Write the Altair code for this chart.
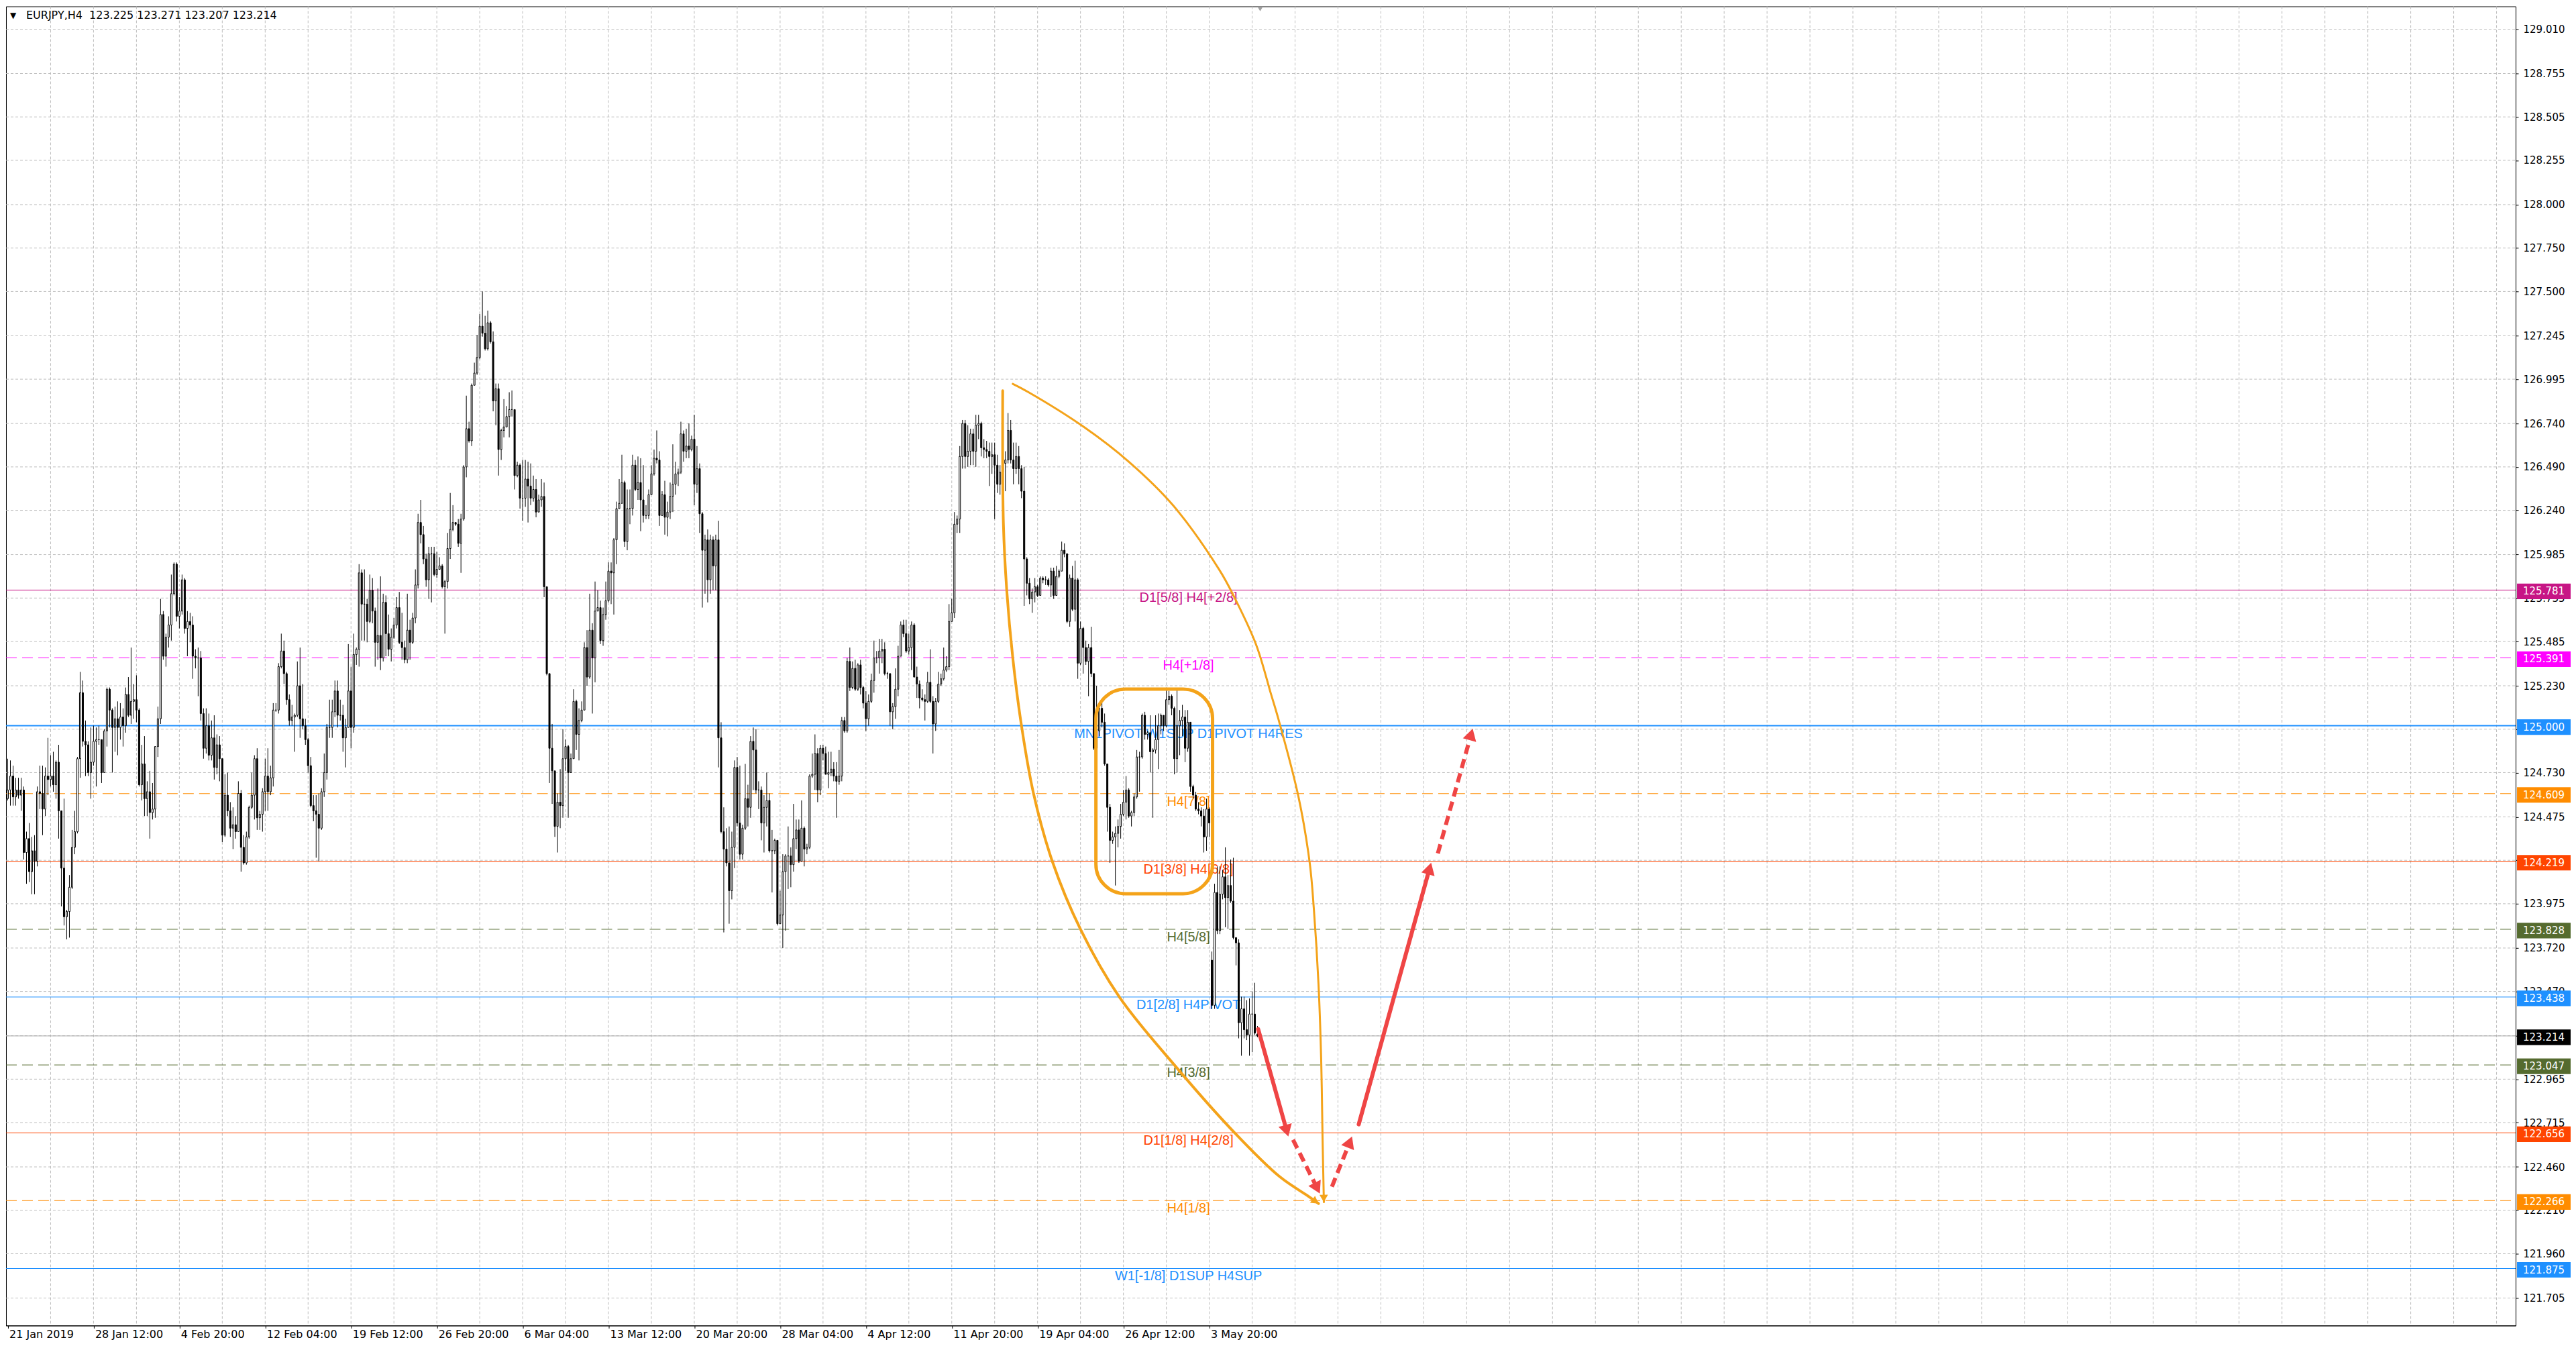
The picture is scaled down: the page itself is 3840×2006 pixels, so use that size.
import math
import altair as alt
import pandas as pd

# ---------------------------------------------------------------- data
HEADER = "EURJPY,H4\u00a0\u00a0123.225 123.271 123.207 123.214"

# H4 candles, bar index 0 = 21 Jan 2019 00:00 (one bar = 4 hours)
first_open = 124.58
open_gaps = {449: 123.65, 466: 123.225}

close = [
    124.63, 124.71, 124.59, 124.63, 124.60, 124.63, 124.27, 124.35, 124.16, 124.28,
    124.22, 124.62, 124.61, 124.52, 124.71, 124.69, 124.71, 124.66, 124.79, 124.51,
    124.18, 123.90, 123.93, 124.07, 124.30, 124.39, 124.81, 125.19, 124.91, 124.89,
    124.73, 124.79, 124.91, 124.92, 124.92, 124.73, 124.97, 125.21, 125.09, 124.99,
    125.04, 124.99, 125.05, 125.00, 125.18, 125.06, 125.14, 125.15, 125.09, 124.66,
    124.78, 124.58, 124.62, 124.50, 124.52, 124.88, 125.04, 125.64, 125.40, 125.51,
    125.58, 125.76, 125.93, 125.63, 125.66, 125.84, 125.56, 125.60, 125.58, 125.40,
    125.39, 125.39, 125.07, 124.87, 125.00, 124.83, 124.93, 124.76, 124.89, 124.81,
    124.37, 124.60, 124.51, 124.41, 124.43, 124.39, 124.61, 124.30, 124.21, 124.36,
    124.53, 124.60, 124.81, 124.47, 124.49, 124.62, 124.71, 124.62, 124.70, 125.09,
    125.09, 125.34, 125.43, 125.30, 125.15, 125.03, 125.05, 125.06, 125.23, 125.04,
    125.00, 124.92, 124.77, 124.54, 124.51, 124.49, 124.41, 124.62, 124.73,
    124.99, 124.99, 125.08, 125.20, 125.06, 125.06, 124.93, 124.99, 125.20, 124.99,
    125.41, 125.44, 125.88, 125.70, 125.70, 125.60, 125.78, 125.66, 125.48, 125.52,
    125.39, 125.71, 125.53, 125.44, 125.51, 125.58, 125.68, 125.48, 125.45, 125.38,
    125.55, 125.48, 125.62, 125.81, 126.17, 126.10, 125.96, 125.84, 125.99, 125.99,
    125.87, 125.90, 125.92, 125.80, 125.83, 126.02, 126.13, 126.17, 126.16, 126.05,
    126.19, 126.49, 126.71, 126.64, 126.96, 127.03, 127.12, 127.30, 127.26, 127.17,
    127.32, 127.21, 126.87, 126.94, 126.59, 126.70, 126.72, 126.78, 126.82, 126.82,
    126.44, 126.50, 126.31, 126.31, 126.42, 126.38, 126.31, 126.36, 126.23, 126.30,
    126.32, 125.80, 125.30, 124.87, 124.74, 124.42, 124.56, 124.54, 124.81, 124.88,
    124.73, 124.81, 125.14, 124.95, 125.03, 125.09, 125.45, 125.28, 125.55, 125.39,
    125.66, 125.68, 125.49, 125.64, 125.72, 125.89, 125.88, 126.07, 126.25, 126.28,
    126.40, 126.06, 126.25, 126.25, 126.50, 126.36, 126.40,
    126.30, 126.21, 126.21, 126.33, 126.45, 126.54, 126.53, 126.21, 126.33, 126.20,
    126.23, 126.32, 126.39, 126.45, 126.46, 126.68, 126.58, 126.61, 126.59, 126.65,
    126.39, 126.48, 126.22, 126.01, 126.07, 125.84, 126.07, 125.92, 126.07, 124.93,
    124.39, 124.29, 124.21, 124.05, 124.30, 124.76, 124.44, 124.26, 124.41, 124.58,
    124.53, 124.91, 124.86, 124.63, 124.63, 124.44, 124.53, 124.57, 124.28, 124.28,
    124.34, 123.86, 123.91, 124.16, 124.25, 124.25, 124.20, 124.35, 124.40, 124.22,
    124.41, 124.29, 124.30, 124.71, 124.72, 124.84, 124.63, 124.87, 124.84, 124.72,
    124.73, 124.75, 124.71, 124.68, 124.71, 125.03, 124.97, 125.37, 125.22, 125.33,
    125.21, 125.35, 125.22, 125.13, 125.04, 125.14, 125.26, 125.39, 125.39, 125.43,
    125.44, 125.30, 125.30, 125.08, 125.11, 125.21, 125.40, 125.58, 125.53, 125.43,
    125.45, 125.58, 125.28, 125.24, 125.16, 125.15, 125.14, 125.25, 125.14, 125.01,
    125.14, 125.24, 125.27, 125.32, 125.34, 125.60, 125.65,
    126.16, 126.19, 126.55, 126.74, 126.55, 126.58, 126.68, 126.58, 126.73, 126.74,
    126.60, 126.59, 126.58, 126.55, 126.56, 126.50, 126.39, 126.46, 126.51, 126.53,
    126.70, 126.53, 126.48, 126.55, 126.48, 126.35, 125.96, 125.82, 125.73, 125.77,
    125.80, 125.75, 125.85, 125.84, 125.84, 125.81, 125.89, 125.75, 125.86, 125.89,
    126.01, 125.99, 125.60, 125.85, 125.67, 125.84, 125.36, 125.56, 125.45, 125.37,
    125.45, 125.30, 124.87, 124.97, 125.10, 125.02, 124.78, 124.53, 124.34, 124.36,
    124.38, 124.42, 124.49, 124.56, 124.63, 124.48, 124.50, 124.59, 124.82, 124.82,
    125.06, 124.95, 124.96, 124.85, 124.86, 124.92, 125.00, 125.06, 125.00, 125.15,
    125.17, 125.10, 124.81, 125.00, 125.03, 125.05, 124.87, 125.02, 124.65, 124.60,
    124.52, 124.51, 124.48, 124.36, 124.52, 124.44, 123.39, 124.04, 123.82, 124.03,
    124.13, 124.01, 124.08, 123.99, 123.78, 123.75, 123.29, 123.37, 123.25, 123.22,
    123.34, 123.34, 123.23, 123.214,
]

high = [
    124.81, 124.80, 124.77, 124.70, 124.70, 124.70, 124.65, 124.39, 124.44, 124.36,
    124.37, 124.65, 124.77, 124.77, 124.76, 124.93, 124.83, 124.85, 124.80, 124.89,
    124.51, 124.58, 123.94, 124.14, 124.40, 124.51, 124.82, 125.31, 125.26, 125.03,
    124.91, 124.99, 125.00, 124.99, 125.00, 124.92, 124.98, 125.22, 125.22, 125.10,
    125.11, 125.14, 125.13, 125.10, 125.22, 125.28, 125.45, 125.24, 125.29, 125.10,
    124.89, 124.94, 124.68, 124.74, 124.67, 124.88, 125.11, 125.73, 125.66, 125.53,
    125.63, 125.87, 125.94, 125.94, 125.74, 125.87, 125.85, 125.66, 125.65, 125.63,
    125.44, 125.45, 125.43, 125.10, 125.10, 125.07, 125.03, 125.06, 124.95, 124.94,
    124.81, 124.72, 124.73, 124.56, 124.53, 124.48, 124.68, 124.63, 124.37, 124.39,
    124.54, 124.73, 124.83, 124.87, 124.51, 124.64, 124.81, 124.87, 124.77, 125.13,
    125.13, 125.36, 125.53, 125.49, 125.31, 125.18, 125.12, 125.07, 125.37, 125.45,
    125.24, 125.04, 124.93, 124.82, 124.60, 124.60, 124.61, 124.64, 124.84,
    125.01, 125.15, 125.15, 125.26, 125.26, 125.15, 125.12, 125.04, 125.47, 125.34,
    125.53, 125.45, 125.93, 125.90, 125.90, 125.73, 125.87, 125.85, 125.68, 125.79,
    125.86, 125.76, 125.75, 125.64, 125.56, 125.62, 125.74, 125.77, 125.65, 125.49,
    125.76, 125.61, 125.65, 125.90, 126.22, 126.30, 126.15, 125.99, 126.03, 126.03,
    126.03, 126.00, 125.97, 125.93, 125.84, 126.11, 126.34, 126.27, 126.17, 126.19,
    126.22, 126.50, 126.90, 126.75, 126.97, 127.09, 127.25, 127.37, 127.50, 127.36,
    127.39, 127.33, 127.27, 126.97, 126.97, 126.71, 126.88, 126.84, 126.92, 126.93,
    126.82, 126.52, 126.51, 126.53, 126.53, 126.52, 126.51, 126.44, 126.42, 126.33,
    126.42, 126.40, 125.80, 125.30, 125.01, 124.73, 124.61, 124.75, 124.98, 124.92,
    124.89, 124.84, 125.21, 125.15, 125.10, 125.14, 125.48, 125.55, 125.76, 125.59,
    125.83, 125.78, 125.72, 125.68, 125.83, 125.94, 125.94, 126.08, 126.29, 126.42,
    126.56, 126.41, 126.36, 126.36, 126.56, 126.53, 126.55,
    126.54, 126.50, 126.27, 126.36, 126.50, 126.59, 126.70, 126.58, 126.35, 126.41,
    126.29, 126.40, 126.62, 126.52, 126.48, 126.75, 126.70, 126.71, 126.74, 126.67,
    126.79, 126.61, 126.51, 126.23, 126.10, 126.13, 126.10, 126.09, 126.10, 126.18,
    125.02, 124.53, 124.41, 124.42, 124.39, 124.80, 124.82, 124.77, 124.43, 124.78,
    124.66, 124.94, 124.99, 124.98, 124.68, 124.65, 124.60, 124.73, 124.61, 124.40,
    124.35, 124.34, 124.05, 124.26, 124.26, 124.42, 124.30, 124.55, 124.46, 124.46,
    124.57, 124.42, 124.32, 124.72, 124.84, 124.95, 124.87, 124.89, 124.89, 124.88,
    124.85, 124.85, 124.79, 124.79, 124.86, 125.05, 125.05, 125.39, 125.45, 125.37,
    125.38, 125.36, 125.38, 125.23, 125.20, 125.18, 125.30, 125.49, 125.43, 125.50,
    125.50, 125.48, 125.31, 125.30, 125.13, 125.33, 125.46, 125.60, 125.61, 125.61,
    125.53, 125.60, 125.59, 125.34, 125.26, 125.21, 125.18, 125.31, 125.44, 125.17,
    125.16, 125.31, 125.30, 125.45, 125.40, 125.70, 125.73,
    126.23, 126.21, 126.61, 126.76, 126.76, 126.73, 126.71, 126.71, 126.79, 126.79,
    126.75, 126.65, 126.64, 126.63, 126.63, 126.63, 126.56, 126.50, 126.56, 126.58,
    126.80, 126.76, 126.63, 126.63, 126.61, 126.50, 126.49, 125.97, 125.85, 125.79,
    125.85, 125.81, 125.86, 125.86, 125.86, 125.85, 125.91, 125.91, 125.92, 125.90,
    126.06, 126.05, 125.99, 125.87, 125.92, 125.95, 125.85, 125.60, 125.57, 125.49,
    125.47, 125.57, 125.30, 125.23, 125.12, 125.13, 125.07, 124.78, 124.55, 124.39,
    124.42, 124.46, 124.55, 124.63, 124.71, 124.64, 124.51, 124.61, 124.86, 124.85,
    125.07, 125.08, 124.97, 125.06, 124.87, 125.06, 125.07, 125.07, 125.06, 125.21,
    125.20, 125.18, 125.11, 125.21, 125.09, 125.12, 125.09, 125.09, 125.02, 124.66,
    124.62, 124.56, 124.53, 124.52, 124.58, 124.53, 123.70, 124.09, 124.19, 124.19,
    124.17, 124.30, 124.14, 124.23, 124.24, 123.78, 123.77, 123.44, 123.44, 123.42,
    123.43, 123.47, 123.52, 123.271,
]

low = [
    124.57, 124.54, 124.54, 124.54, 124.58, 124.51, 124.23, 124.09, 124.10, 124.03,
    124.03, 124.19, 124.52, 124.37, 124.48, 124.60, 124.65, 124.62, 124.58, 124.35,
    123.96, 123.85, 123.77, 123.78, 124.06, 124.26, 124.38, 124.70, 124.88, 124.71,
    124.71, 124.58, 124.77, 124.65, 124.89, 124.67, 124.73, 124.88, 124.99, 124.73,
    124.85, 124.83, 124.92, 124.88, 124.96, 125.05, 125.01, 125.04, 125.02, 124.65,
    124.57, 124.48, 124.48, 124.35, 124.46, 124.47, 124.82, 125.01, 125.38, 125.34,
    125.45, 125.49, 125.75, 125.60, 125.56, 125.64, 125.53, 125.40, 125.48, 125.27,
    125.33, 125.17, 125.03, 124.81, 124.84, 124.80, 124.80, 124.69, 124.72, 124.68,
    124.33, 124.36, 124.48, 124.36, 124.29, 124.35, 124.39, 124.16, 124.20, 124.20,
    124.35, 124.52, 124.46, 124.40, 124.40, 124.39, 124.51, 124.51, 124.60, 124.65,
    125.08, 125.07, 125.33, 125.24, 125.12, 125.00, 125.00, 124.85, 125.05, 124.93,
    124.98, 124.89, 124.73, 124.53, 124.45, 124.24, 124.22, 124.40, 124.59,
    124.69, 124.93, 124.93, 125.05, 124.99, 125.03, 124.85, 124.76, 124.99, 124.87,
    124.96, 125.35, 125.34, 125.49, 125.49, 125.48, 125.59, 125.59, 125.34, 125.38,
    125.32, 125.37, 125.40, 125.40, 125.37, 125.50, 125.56, 125.47, 125.38, 125.36,
    125.36, 125.38, 125.47, 125.59, 125.79, 126.05, 125.93, 125.80, 125.73, 125.71,
    125.86, 125.85, 125.91, 125.79, 125.53, 125.79, 125.96, 126.12, 126.15, 126.03,
    125.88, 126.18, 126.43, 126.63, 126.61, 126.96, 127.02, 127.11, 127.24, 127.16,
    127.16, 127.20, 126.81, 126.73, 126.44, 126.53, 126.66, 126.72, 126.66, 126.78,
    126.36, 126.43, 126.25, 126.18, 126.26, 126.17, 126.27, 126.29, 126.20, 126.23,
    126.26, 125.74, 125.29, 124.67, 124.55, 124.36, 124.27, 124.41, 124.47, 124.74,
    124.47, 124.73, 124.81, 124.86, 124.80, 125.02, 125.09, 125.23, 125.27, 125.07,
    125.25, 125.66, 125.47, 125.46, 125.61, 125.71, 125.70, 125.64, 125.93, 126.25,
    126.29, 126.03, 126.01, 126.16, 126.21, 126.35, 126.30,
    126.12, 126.17, 126.19, 126.19, 126.33, 126.44, 126.51, 126.15, 126.21, 126.10,
    126.09, 126.19, 126.23, 126.33, 126.38, 126.45, 126.52, 126.54, 126.54, 126.58,
    126.27, 126.34, 126.11, 125.68, 125.76, 125.71, 125.76, 125.78, 125.78, 124.76,
    124.38, 123.81, 124.19, 123.86, 124.00, 124.18, 124.42, 124.23, 124.23, 124.40,
    124.42, 124.47, 124.63, 124.61, 124.52, 124.34, 124.27, 124.42, 124.27, 124.04,
    124.26, 123.85, 123.86, 123.72, 123.82, 124.06, 124.07, 124.16, 124.29, 124.21,
    124.22, 124.19, 124.26, 124.29, 124.70, 124.63, 124.56, 124.60, 124.80, 124.72,
    124.64, 124.71, 124.68, 124.47, 124.66, 124.68, 124.96, 124.96, 125.20, 125.21,
    125.20, 125.20, 125.18, 125.10, 124.97, 125.00, 125.13, 125.19, 125.36, 125.30,
    125.36, 125.29, 125.27, 125.00, 124.98, 125.04, 125.17, 125.40, 125.51, 125.42,
    125.41, 125.32, 125.28, 125.16, 125.10, 125.14, 125.03, 125.13, 125.13, 124.84,
    124.97, 125.13, 125.23, 125.26, 125.31, 125.32, 125.61,
    125.62, 126.11, 126.11, 126.48, 126.48, 126.49, 126.50, 126.50, 126.49, 126.65,
    126.55, 126.54, 126.54, 126.38, 126.45, 126.19, 126.34, 126.33, 126.31, 126.35,
    126.51, 126.51, 126.39, 126.45, 126.39, 126.31, 125.69, 125.75, 125.70, 125.65,
    125.71, 125.74, 125.75, 125.82, 125.81, 125.80, 125.74, 125.73, 125.77, 125.85,
    125.89, 125.97, 125.59, 125.57, 125.66, 125.60, 125.27, 125.35, 125.30, 125.35,
    125.17, 125.28, 124.86, 124.86, 124.94, 124.99, 124.77, 124.39, 124.21, 124.32,
    124.08, 124.30, 124.35, 124.48, 124.46, 124.47, 124.42, 124.48, 124.58, 124.62,
    124.81, 124.92, 124.92, 124.73, 124.47, 124.84, 124.75, 124.95, 124.97, 124.99,
    125.12, 125.06, 124.72, 124.73, 124.83, 124.94, 124.79, 124.85, 124.62, 124.58,
    124.51, 124.49, 124.42, 124.27, 124.28, 124.36, 123.37, 123.37, 123.80, 123.80,
    124.00, 123.84, 123.83, 123.98, 123.77, 123.62, 123.20, 123.10, 123.20, 123.19,
    123.10, 123.12, 123.22, 123.207,
]

# time-axis labels (every 32 bars)
x_labels = ["21 Jan 2019", "28 Jan 12:00", "4 Feb 20:00", "12 Feb 04:00", "19 Feb 12:00",
            "26 Feb 20:00", "6 Mar 04:00", "13 Mar 12:00", "20 Mar 20:00", "28 Mar 04:00",
            "4 Apr 12:00", "11 Apr 20:00", "19 Apr 04:00", "26 Apr 12:00", "3 May 20:00"]

# price-axis ticks
y_ticks = [129.010, 128.755, 128.505, 128.255, 128.000, 127.750, 127.500, 127.245,
           126.995, 126.740, 126.490, 126.240, 125.985, 125.735, 125.485, 125.230,
           124.980, 124.730, 124.475, 124.225, 123.975, 123.720, 123.470, 123.215,
           122.965, 122.715, 122.460, 122.210, 121.960, 121.705]

# Murrey / pivot levels
lvl_price = [125.781, 125.391, 125.000, 124.609, 124.219, 123.828, 123.438,
             123.047, 122.656, 122.266, 121.875]
lvl_text = ["D1[5/8] H4[+2/8]", "H4[+1/8]", "MN1PIVOT W1SUP D1PIVOT H4RES", "H4[7/8]",
            "D1[3/8] H4[6/8]", "H4[5/8]", "D1[2/8] H4PIVOT", "H4[3/8]",
            "D1[1/8] H4[2/8]", "H4[1/8]", "W1[-1/8] D1SUP H4SUP"]
lvl_color = ["#C71585", "#FF00FF", "#1E90FF", "#FF8C00", "#FF4500", "#556B2F",
             "#1E90FF", "#556B2F", "#FF4500", "#FF8C00", "#1E90FF"]
lvl_dashed = [False, True, False, True, False, True, False, True, False, True, False]
lvl_width = [1, 1, 2, 1, 1, 1, 1, 1, 1, 1, 1]
last_price = 123.214

# hand-drawn annotations (bar index, price)
arc1_x = [371.0, 371.25, 372.5, 374.75, 378.0, 382.5, 389.5, 400.0, 414.5, 435.0,
          457.5, 474.25, 485.25, 488.75]
arc1_y = [126.929, 126.168, 125.781, 125.391, 125.000, 124.609, 124.219, 123.828, 123.438,
          123.047, 122.656, 122.404, 122.288, 122.249]
arc2_x = [374.75, 380.5, 401.25, 418.0, 434.5, 451.75, 457.0, 465.5, 471.0, 473.75, 481.25,
          485.5, 487.0, 488.75, 489.75, 490.25, 490.75]
arc2_y = [126.968, 126.921, 126.720, 126.520, 126.269, 125.898, 125.751, 125.466, 125.184,
          125.041, 124.593, 124.207, 123.948, 123.512, 123.076, 122.635, 122.257]
box_x = [405.75, 449.25]
box_y = [124.033, 125.211]

red_x0 = [466.25, 479.25, 493.75, 503.75, 533.25]
red_y0 = [123.253, 122.616, 122.346, 122.705, 124.265]
red_x1 = [477.5, 489.25, 501.25, 530.75, 546.25]
red_y1 = [122.635, 122.307, 122.635, 124.211, 124.983]
red_dashed = [False, True, True, False, True]

# ---------------------------------------------------------------- layout / style
W, H = 3743, 1967
X0 = -0.625
X1 = X0 + W / 4.0
Y0, Y1 = 121.5467, 129.1413
PXB = W / (X1 - X0)
PXP = H / (Y1 - Y0)
LABEL_X = 440.25
ORANGE = "#F4A31A"
RED = "#EF4545"
GRID = "#BDBDBD"

assert len(close) == len(high) == len(low) == 467

opens = [first_open] + close[:-1]
for k, v in open_gaps.items():
    opens[k] = v

rows = []
for i in range(len(close)):
    o, c = opens[i], close[i]
    top, bot = max(o, c), min(o, c)
    rows.append({"i": i, "top": top, "bot": bot,
                 "hi": max(high[i], top), "lo": min(low[i], bot),
                 "fill": "#FFFFFF" if c >= o else "#000000"})
candles = pd.DataFrame(rows)

xs = alt.Scale(domain=[X0, X1], nice=False, zero=False)
ys = alt.Scale(domain=[Y0, Y1], nice=False, zero=False)

label_expr = "[" + ",".join("'%s'" % s for s in x_labels) + "][round(datum.value / 32)]"
x_axis = alt.Axis(title=None, values=[32 * k for k in range(len(x_labels))], labelExpr=label_expr,
                  orient="bottom", grid=False, domain=True, domainColor="#000000", domainWidth=1,
                  ticks=True, tickColor="#000000", tickSize=4, labelAlign="left", labelBaseline="top",
                  labelPadding=1, labelOffset=2, labelFont="DejaVu Sans", labelFontSize=16,
                  labelColor="#000000", labelOverlap=False, labelFlush=False)
y_axis = alt.Axis(title=None, values=y_ticks, format=".3f", orient="right", grid=False,
                  domain=True, domainColor="#000000", ticks=True, tickColor="#000000", tickSize=4,
                  labelPadding=7, labelFont="DejaVu Sans", labelFontSize=15, labelColor="#000000",
                  labelOverlap=False, labelFlush=False, labelBaseline="middle")


def X(f):
    return alt.X(f, type="quantitative", scale=xs, axis=x_axis)


def Y(f):
    return alt.Y(f, type="quantitative", scale=ys, axis=y_axis)


# grid
hgrid = alt.Chart(pd.DataFrame({"p": y_ticks})).mark_rule(
    color=GRID, strokeWidth=1, strokeDash=[4, 3]).encode(
    y=Y("p"), x=alt.value(0), x2=alt.value(W))
vgrid = alt.Chart(pd.DataFrame({"b": [16 * k for k in range(1, 59)]})).mark_rule(
    color=GRID, strokeWidth=1, strokeDash=[4, 3]).encode(
    x=X("b"), y=alt.value(0), y2=alt.value(H))

levels = pd.DataFrame({"p": lvl_price, "t": lvl_text, "col": lvl_color,
                       "dash": lvl_dashed, "w": lvl_width})
lv_solid = alt.Chart(levels[~levels.dash]).mark_rule().encode(
    y=Y("p"), x=alt.value(0), x2=alt.value(W),
    color=alt.Color("col:N", scale=None), strokeWidth=alt.StrokeWidth("w:Q", scale=None))
lv_dash = alt.Chart(levels[levels.dash]).mark_rule(strokeDash=[16, 8]).encode(
    y=Y("p"), x=alt.value(0), x2=alt.value(W),
    color=alt.Color("col:N", scale=None), strokeWidth=alt.StrokeWidth("w:Q", scale=None))
bid_line = alt.Chart(pd.DataFrame({"p": [last_price]})).mark_rule(
    color="#A8A8A8", strokeWidth=1).encode(y=Y("p"), x=alt.value(0), x2=alt.value(W))

lv_text = alt.Chart(levels.assign(x=LABEL_X)).mark_text(
    font="Liberation Sans", fontSize=20, align="center", baseline="alphabetic", dy=18).encode(
    x=X("x"), y=Y("p"), text="t:N", color=alt.Color("col:N", scale=None))

# candles
wicks = alt.Chart(candles).mark_rule(color="#000000", strokeWidth=1).encode(
    x=X("i"), y=Y("lo"), y2="hi:Q")
bodies = alt.Chart(candles).transform_calculate(
    xl="datum.i - 0.25", xr="datum.i + 0.25").mark_rect(
    stroke="#000000", strokeWidth=1).encode(
    x=X("xl"), x2="xr:Q", y=Y("bot"), y2="top:Q", fill=alt.Fill("fill:N", scale=None))

# annotations
arcs1 = pd.DataFrame({"x": arc1_x, "y": arc1_y, "o": range(len(arc1_x))})
arcs2 = pd.DataFrame({"x": arc2_x, "y": arc2_y, "o": range(len(arc2_x))})
arc1 = alt.Chart(arcs1).mark_line(color=ORANGE, strokeWidth=4, interpolate="catmull-rom",
                                  strokeCap="round").encode(x=X("x"), y=Y("y"), order="o:Q")
arc2 = alt.Chart(arcs2).mark_line(color=ORANGE, strokeWidth=3, interpolate="catmull-rom",
                                  strokeCap="round").encode(x=X("x"), y=Y("y"), order="o:Q")
rbox = alt.Chart(pd.DataFrame({"x": [box_x[0]], "x2": [box_x[1]], "y": [box_y[0]], "y2": [box_y[1]]})).mark_rect(
    fillOpacity=0, stroke=ORANGE, strokeWidth=5, cornerRadius=44).encode(
    x=X("x"), x2="x2:Q", y=Y("y"), y2="y2:Q")


def head(xa, ya, xb, yb, size):
    dx = (xb - xa) * PXB
    dy = -(yb - ya) * PXP
    L = math.hypot(dx, dy)
    ux, uy = dx / L, dy / L
    h = 0.433 * math.sqrt(size)
    cx = xb - ux * h / PXB
    cy = yb + uy * h / PXP
    ang = math.degrees(math.atan2(ux, -uy)) % 360
    return cx, cy, ang


heads_o = []
for (xa, ya, xb, yb) in [(arc1_x[-2], arc1_y[-2], arc1_x[-1], arc1_y[-1]),
                         (arc2_x[-2], arc2_y[-2], arc2_x[-1], arc2_y[-1])]:
    cx, cy, ang = head(xa, ya, xb, yb, 160)
    heads_o.append({"x": cx, "y": cy, "a": ang})
o_heads = alt.Chart(pd.DataFrame(heads_o)).mark_point(
    shape="triangle-up", filled=True, size=160, color=ORANGE, opacity=1).encode(
    x=X("x"), y=Y("y"), angle=alt.Angle("a:Q", scale=None))

segs, heads_r = [], []
for xa, ya, xb, yb, d in zip(red_x0, red_y0, red_x1, red_y1, red_dashed):
    cx, cy, ang = head(xa, ya, xb, yb, 420)
    segs.append({"x": xa, "y": ya, "x2": cx, "y2": cy, "d": d})
    heads_r.append({"x": cx, "y": cy, "a": ang})
segs = pd.DataFrame(segs)
red_solid = alt.Chart(segs[~segs.d]).mark_rule(color=RED, strokeWidth=6, strokeCap="round").encode(
    x=X("x"), x2="x2:Q", y=Y("y"), y2="y2:Q")
red_dash = alt.Chart(segs[segs.d]).mark_rule(color=RED, strokeWidth=6, strokeDash=[14, 8]).encode(
    x=X("x"), x2="x2:Q", y=Y("y"), y2="y2:Q")
r_heads = alt.Chart(pd.DataFrame(heads_r)).mark_point(
    shape="triangle-up", filled=True, size=420, color=RED, opacity=1).encode(
    x=X("x"), y=Y("y"), angle=alt.Angle("a:Q", scale=None))

# price tags on the right axis
tags = pd.DataFrame({"p": lvl_price + [last_price], "col": lvl_color + ["#000000"]})
tags["t"] = tags.p.map(lambda v: "%.3f" % v)
tag_box = alt.Chart(tags).mark_point(
    shape="M-1,-0.24L1,-0.24L1,0.34L-1,0.34Z", size=6400, filled=True, opacity=1,
    strokeWidth=0, clip=False).encode(
    x=alt.value(W + 42), y=Y("p"), fill=alt.Fill("col:N", scale=None))
tag_txt = alt.Chart(tags).mark_text(
    font="DejaVu Sans", fontSize=15, align="left", baseline="middle", dy=2, color="#FFFFFF",
    clip=False).encode(x=alt.value(W + 11), y=Y("p"), text="t:N")

# header
hdr_tri = alt.Chart(pd.DataFrame({"t": ["\u25bc"]})).mark_text(
    font="DejaVu Sans", fontSize=12, align="left", baseline="middle", color="#000000").encode(
    x=alt.value(6), y=alt.value(13), text="t:N")
hdr_txt = alt.Chart(pd.DataFrame({"t": [HEADER]})).mark_text(
    font="DejaVu Sans", fontSize=16, align="left", baseline="middle", color="#000000").encode(
    x=alt.value(30), y=alt.value(13), text="t:N")
shift_mark = alt.Chart(pd.DataFrame({"b": [467]})).mark_point(
    shape="triangle-down", filled=True, size=60, color="#A0A0A0", opacity=1).encode(
    x=X("b"), y=alt.value(4))

chart = alt.layer(
    hgrid, vgrid, lv_solid, lv_dash, bid_line, lv_text,
    wicks, bodies,
    rbox, arc1, arc2, o_heads, red_solid, red_dash, r_heads,
    tag_box, tag_txt, hdr_tri, hdr_txt, shift_mark,
).properties(width=W, height=H, padding=0, background="#FFFFFF").configure_view(
    stroke="#000000", strokeWidth=1)

chart.save("out.html", embed_options={"renderer": "svg", "actions": False})
